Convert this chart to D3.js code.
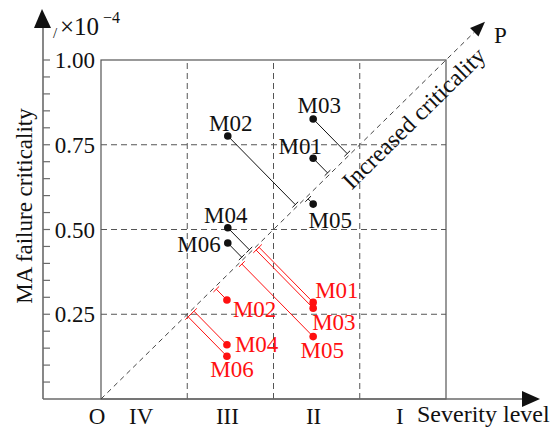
<!DOCTYPE html>
<html>
<head>
<meta charset="utf-8">
<script src="https://cdn.jsdelivr.net/npm/d3@7"></script>
<style>
  html, body { margin: 0; padding: 0; background: #fff; }
  svg { display: block; }
  text { font-family: "Liberation Serif", "Times New Roman", serif; }
</style>
</head>
<body>
<svg id="chart" width="557" height="428"></svg>
<script>
// ---- data ----
const models = ["M01", "M02", "M03", "M04", "M05", "M06"];
const severityBefore = [2.46, 1.47, 2.46, 1.47, 2.46, 1.47];
const criticalityBefore = [0.710, 0.776, 0.826, 0.505, 0.575, 0.460];
const severityAfter = [2.46, 1.46, 2.46, 1.46, 2.46, 1.46];
const criticalityAfter = [0.285, 0.292, 0.268, 0.160, 0.184, 0.126];
const yTickValues = [0.25, 0.50, 0.75, 1.00];
const severityLabels = ["IV", "III", "II", "I"];

// ---- label placement (style, not data) ----
const beforeLabelPos = {
  M01: { dx: -13, dy: -4, anchor: "middle" },
  M02: { dx: 3, dy: -5, anchor: "middle" },
  M03: { dx: 6, dy: -6, anchor: "middle" },
  M04: { dx: -2, dy: -5, anchor: "middle" },
  M05: { dx: 17, dy: 24, anchor: "middle" },
  M06: { dx: -7, dy: 9, anchor: "end" }
};
const afterLabelPos = {
  M01: { dx: 2, dy: -4, anchor: "start" },
  M02: { dx: 6, dy: 17, anchor: "start" },
  M03: { dx: -1, dy: 22, anchor: "start" },
  M04: { dx: 8, dy: 7, anchor: "start" },
  M05: { dx: 9, dy: 21, anchor: "middle" },
  M06: { dx: 5, dy: 21, anchor: "middle" }
};

const svg = d3.select("#chart");
const FS = 23;
const RED = "#ff1010";

const x = d3.scaleLinear().domain([0, 4]).range([101, 446]);
const y = d3.scaleLinear().domain([0, 1]).range([399, 60]);

const axisX0 = 43;
const gridColor = "#555";

// grid (dashed)
const g = svg.append("g");
g.selectAll("line.vg").data([1, 2, 3]).join("line")
  .attr("x1", d => x(d)).attr("x2", d => x(d))
  .attr("y1", y(0)).attr("y2", y(1))
  .attr("stroke", gridColor).attr("stroke-width", 1).attr("stroke-dasharray", "6,4");
g.selectAll("line.hg").data(yTickValues.filter(v => v < 1)).join("line")
  .attr("x1", x(0)).attr("x2", x(4))
  .attr("y1", d => y(d)).attr("y2", d => y(d))
  .attr("stroke", gridColor).attr("stroke-width", 1).attr("stroke-dasharray", "6,4");

// plot box
svg.append("rect")
  .attr("x", x(0)).attr("y", y(1))
  .attr("width", x(4) - x(0)).attr("height", y(0) - y(1))
  .attr("fill", "none").attr("stroke", "#555").attr("stroke-width", 1.2);

// axes with arrows
const axisColor = "#6a6a6a";
svg.append("line").attr("x1", axisX0).attr("x2", axisX0)
  .attr("y1", y(0)).attr("y2", 26).attr("stroke", axisColor).attr("stroke-width", 1.6);
svg.append("path").attr("d", `M${axisX0 - 1},9 L${axisX0 - 9},28 L${axisX0 + 8},28 Z`).attr("fill", "#111");
svg.append("line").attr("x1", axisX0).attr("x2", 524)
  .attr("y1", y(0)).attr("y2", y(0)).attr("stroke", axisColor).attr("stroke-width", 1.6);
svg.append("path").attr("d", `M540,${y(0)} L522,${y(0) - 8} L522,${y(0) + 8} Z`).attr("fill", "#111");

// y ticks (minor every 0.05)
const minorTicks = d3.range(1, 21).map(i => i * 0.05);
svg.selectAll("line.yt").data(minorTicks).join("line")
  .attr("x1", axisX0).attr("x2", axisX0 + 7)
  .attr("y1", d => y(d)).attr("y2", d => y(d))
  .attr("stroke", axisColor).attr("stroke-width", 1.2);

svg.selectAll("text.ytl").data(yTickValues).join("text")
  .attr("x", 95).attr("y", d => y(d) + 8)
  .attr("text-anchor", "end").attr("font-size", FS).attr("fill", "#111")
  .text(d => d.toFixed(2));

// unit label /×10^-4
svg.append("text").attr("x", 53).attr("y", 38).attr("font-size", 15).attr("fill", "#111").text("/");
svg.append("text").attr("x", 60).attr("y", 35).attr("font-size", 25).attr("fill", "#111").text("×10");
svg.append("text").attr("x", 103).attr("y", 23).attr("font-size", 16).attr("fill", "#111").text("−4");

// y title
svg.append("text")
  .attr("transform", `translate(32,${206}) rotate(-90)`)
  .attr("text-anchor", "middle").attr("font-size", 23).attr("fill", "#111")
  .text("MA failure criticality");

// x labels
svg.append("text").attr("x", 97).attr("y", 424).attr("text-anchor", "middle")
  .attr("font-size", FS).attr("fill", "#111").text("O");
svg.selectAll("text.sev").data(severityLabels).join("text")
  .attr("x", (d, i) => x(i + 0.5) - 3).attr("y", 424)
  .attr("text-anchor", "middle").attr("font-size", FS).attr("fill", "#111")
  .text(d => d);
svg.append("text").attr("x", 417).attr("y", 422)
  .attr("font-size", 24).attr("fill", "#111").text("Severity level");

// diagonal
const ox = x(0), oy = y(0);
const cx = x(4), cy = y(1);
const len = Math.hypot(cx - ox, cy - oy);
const ux = (cx - ox) / len, uy = (cy - oy) / len;   // along diagonal
const nx = -uy, ny = ux;                            // normal pointing down-right
const tipT = len * 1.113;
const tip = [ox + ux * tipT, oy + uy * tipT];
const baseT = tipT - 15;
const base = [ox + ux * baseT, oy + uy * baseT];
svg.append("line").attr("x1", ox).attr("y1", oy).attr("x2", base[0]).attr("y2", base[1])
  .attr("stroke", "#444").attr("stroke-width", 1).attr("stroke-dasharray", "5,4");
svg.append("path")
  .attr("d", `M${tip[0]},${tip[1]} L${base[0] + nx * 6},${base[1] + ny * 6} L${base[0] - nx * 6},${base[1] - ny * 6} Z`)
  .attr("fill", "#111");
svg.append("text").attr("x", tip[0] + 9).attr("y", tip[1] + 21)
  .attr("font-size", FS).attr("fill", "#111").text("P");

const angle = Math.atan2(cy - oy, cx - ox) * 180 / Math.PI;
const tT = len * 0.868, off = 27;
svg.append("text")
  .attr("transform", `translate(${ox + ux * tT + nx * off},${oy + uy * tT + ny * off}) rotate(${angle})`)
  .attr("text-anchor", "middle").attr("font-size", 24).attr("fill", "#111")
  .text("Increased criticality");

// projection helper
function project(px, py) {
  const t = (px - ox) * ux + (py - oy) * uy;
  const side = Math.sign((px - ox) * nx + (py - oy) * ny) || 1;
  return { x: ox + ux * t, y: oy + uy * t, side };
}

function drawSet(xs, ys, color, labelPos) {
  const grp = svg.append("g");
  models.forEach((m, i) => {
    const px = x(xs[i]), py = y(ys[i]);
    const p = project(px, py);
    const e = [p.x + nx * p.side * 2.5, p.y + ny * p.side * 2.5];
    grp.append("line").attr("x1", px).attr("y1", py).attr("x2", e[0]).attr("y2", e[1])
      .attr("stroke", color).attr("stroke-width", 1);
    grp.append("line")
      .attr("x1", e[0] - ux * 4).attr("y1", e[1] - uy * 4)
      .attr("x2", e[0] + ux * 4).attr("y2", e[1] + uy * 4)
      .attr("stroke", color).attr("stroke-width", 1);
  });
  models.forEach((m, i) => {
    const px = x(xs[i]), py = y(ys[i]);
    grp.append("circle").attr("cx", px).attr("cy", py).attr("r", 3.8).attr("fill", color);
    const lp = labelPos[m];
    grp.append("text").attr("x", px + lp.dx).attr("y", py + lp.dy)
      .attr("text-anchor", lp.anchor).attr("font-size", FS).attr("fill", color)
      .text(m);
  });
}

drawSet(severityBefore, criticalityBefore, "#111", beforeLabelPos);
drawSet(severityAfter, criticalityAfter, RED, afterLabelPos);
</script>
</body>
</html>
